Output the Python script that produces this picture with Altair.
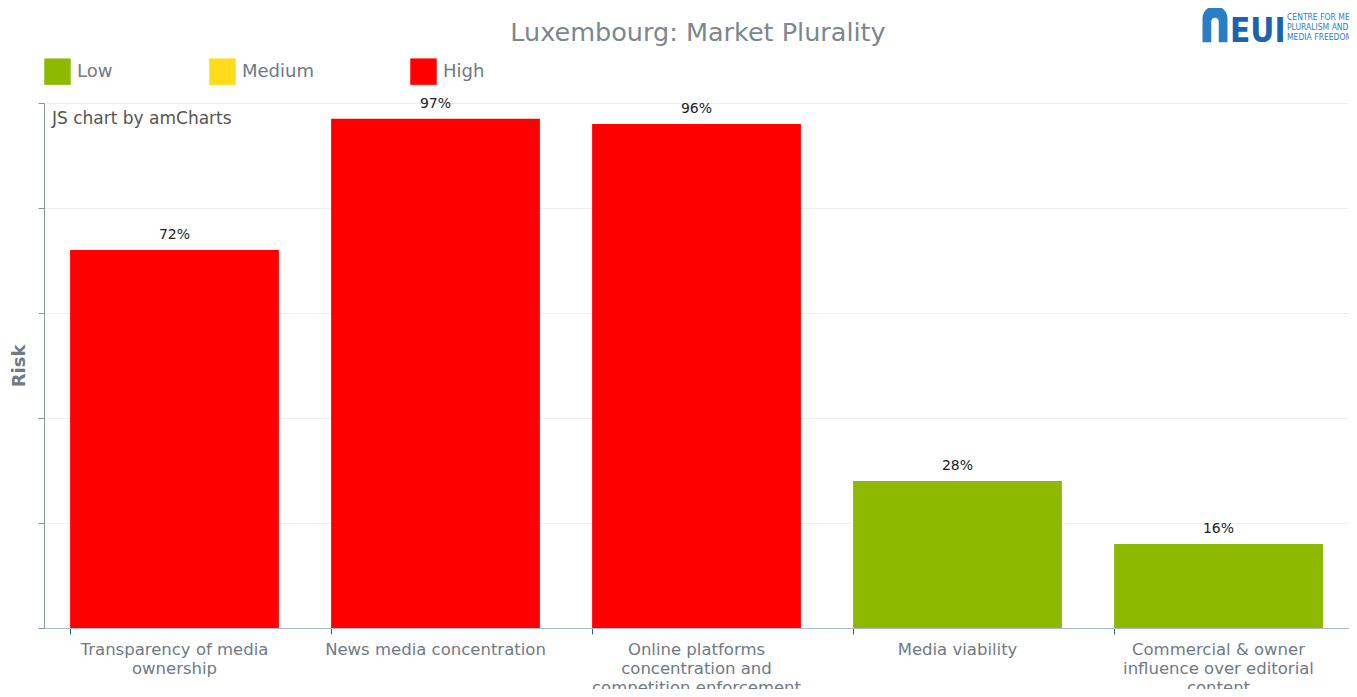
import altair as alt
import pandas as pd

# ---- data ----
categories = [
    "Transparency of media|ownership",
    "News media concentration",
    "Online platforms|concentration and|competition enforcement",
    "Media viability",
    "Commercial & owner|influence over editorial|content",
]
values = [72, 97, 96, 28, 16]
levels = ["High", "High", "High", "Low", "Low"]
value_labels = ["72%", "97%", "96%", "28%", "16%"]

legend_levels = ["Low", "Medium", "High"]
legend_colors = ["#8DB900", "#FFDB1A", "#FF0000"]
y_ticks = [0, 20, 40, 60, 80, 100]

title_text = "Luxembourg: Market Plurality"
credit_text = "JS chart by amCharts"
logo_main = "EUI"
logo_lines = ["CENTRE FOR MEDIA", "PLURALISM AND", "MEDIA FREEDOM"]

df = pd.DataFrame({"category": categories, "value": values,
                   "level": levels, "label": value_labels})

FONT = "DejaVu Sans"
COND = "DejaVu Sans Condensed, Liberation Sans Narrow, DejaVu Sans"
W, H = 1305, 525

base = alt.Chart(df).encode(
    x=alt.X("category:N", sort=categories, title=None,
            scale=alt.Scale(paddingInner=0.2, paddingOuter=0.1),
            axis=alt.Axis(labelExpr="split(datum.value, '|')", labelAngle=0,
                          labelFont=FONT, labelFontSize=16.5, labelColor="#6f7a84",
                          labelLineHeight=19, labelBaseline="top", labelPadding=7,
                          tickSize=6, tickColor="#2f5d86", domainColor="#a9bccb",
                          bandPosition=0, grid=False, labelLimit=400)),
)

bars = base.mark_bar(stroke=None).encode(
    y=alt.Y("value:Q", title="Risk",
            scale=alt.Scale(domain=[0, 100], nice=False),
            axis=alt.Axis(values=y_ticks, labels=False, tickSize=6,
                          tickColor="#8a949c", domainColor="#8a949c",
                          gridColor="#efefef", grid=True,
                          titleFont=FONT, titleFontSize=18, titleFontWeight="bold",
                          titleColor="#6f7a84", titlePadding=9)),
    color=alt.Color("level:N",
                    scale=alt.Scale(domain=legend_levels, range=legend_colors),
                    legend=alt.Legend(title=None, orient="none", direction="horizontal",
                                      legendX=0, legendY=-45,
                                      symbolType="square", symbolSize=700,
                                      symbolStrokeWidth=0, symbolOpacity=1,
                                      labelFont=FONT, labelFontSize=18,
                                      labelColor="#6f7a84", labelOffset=6,
                                      columnPadding=96)),
)

texts = base.mark_text(dy=-8, baseline="bottom", font=FONT, fontSize=14,
                       color="#222222").encode(
    y=alt.Y("value:Q"), text="label:N")

title = alt.Chart(pd.DataFrame({"t": [title_text]})).mark_text(
    align="center", baseline="middle", font=FONT, fontSize=25.5, color="#7b8791"
).encode(x=alt.value(654), y=alt.value(-70), text="t:N")

credit = alt.Chart(pd.DataFrame({"t": [credit_text]})).mark_text(
    align="left", baseline="middle", font=FONT, fontSize=17, color="#555555"
).encode(x=alt.value(8), y=alt.value(16), text="t:N")

logo_eui = alt.Chart(pd.DataFrame({"t": [logo_main]})).mark_text(
    align="left", baseline="alphabetic", font=COND, fontSize=33, fontWeight="bold",
    color="#1b64ad"
).encode(x=alt.value(1186), y=alt.value(-61), text="t:N")

logo_small = alt.Chart(pd.DataFrame({
    "t": logo_lines, "yy": [-86, -76, -66]})).mark_text(
    align="left", baseline="middle", font=COND, fontSize=8.5, color="#2a7fc4"
).encode(x=alt.value(1243), y=alt.Y("yy:Q", scale=None), text="t:N")

arch = alt.Chart(pd.DataFrame({"a": [1]})).mark_point(
    shape="M-1,1.45 L-1,-0.45 A1,1 0 0 1 1,-0.45 L1,1.45 L0.3,1.45 L0.3,-0.2 "
          "A0.3,0.3 0 0 0 -0.3,-0.2 L-0.3,1.45 Z",
    filled=True, color="#2a7fc4", opacity=1, size=625
).encode(x=alt.value(1171), y=alt.value(-79))

chart = alt.layer(bars, texts, title, credit, arch, logo_eui, logo_small).properties(
    width=W, height=H,
    autosize=alt.AutoSizeParams(type="none"),
    padding={"left": 36, "top": 95, "right": 0, "bottom": 61},
).configure_view(stroke=None).configure_axis(domainWidth=1)

chart.save("out.html", embed_options={"renderer": "svg", "actions": False})
